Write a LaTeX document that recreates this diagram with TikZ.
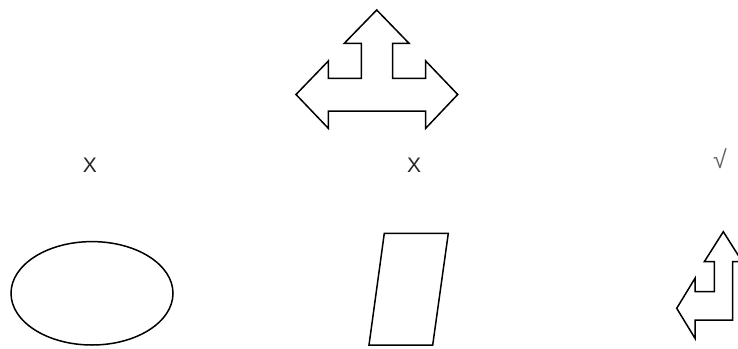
\documentclass[tikz,border=0pt]{standalone}
\usepackage{fontspec}
\setmainfont{Liberation Sans}
\begin{document}
\begin{tikzpicture}[x=1pt,y=-1pt,
  outline/.style={draw=black,line width=1.5pt,line join=miter,fill=white},
  lbl/.style={font={\fontsize{21}{24}\selectfont},text=black!85,inner sep=0pt}]
\useasboundingbox (0,0) rectangle (738,348);
\clip (0,0) rectangle (738,348);
% three-way arrow
\draw[outline] (376.7,10) -- (409,43.3) -- (392.7,43.3) -- (392.7,78.3) -- (425.7,78.3)
  -- (425.7,61) -- (457.7,94.5) -- (425.7,128.3) -- (425.7,111) -- (328.3,111)
  -- (328.3,128.3) -- (296,94.5) -- (328.3,61) -- (328.3,78.3) -- (361.3,78.3)
  -- (361.3,43.3) -- (344.3,43.3) -- cycle;
% labels
\node[lbl] (x1) at (90,165) {X};
\node[lbl] (x2) at (414,165) {X};
\node[lbl,font={\fontsize{25}{28}\selectfont},text=black!60] (ok) at (720,159) {√};
% ellipse
\draw[outline] (92,293.3) ellipse [x radius=81, y radius=51.7];
% parallelogram
\draw[outline] (384.3,233.3) -- (448.3,233.3) -- (432.7,345) -- (369,345) -- cycle;
% bent arrow
\draw[outline] (723.3,231.7) -- (742.3,261.7) -- (732.7,261.7) -- (732.7,320)
  -- (695,320) -- (695,338.3) -- (676.7,308.3) -- (695,278.3) -- (695,291.7)
  -- (714.3,291.7) -- (714.3,261.7) -- (704.3,261.7) -- cycle;
\end{tikzpicture}
\end{document}
